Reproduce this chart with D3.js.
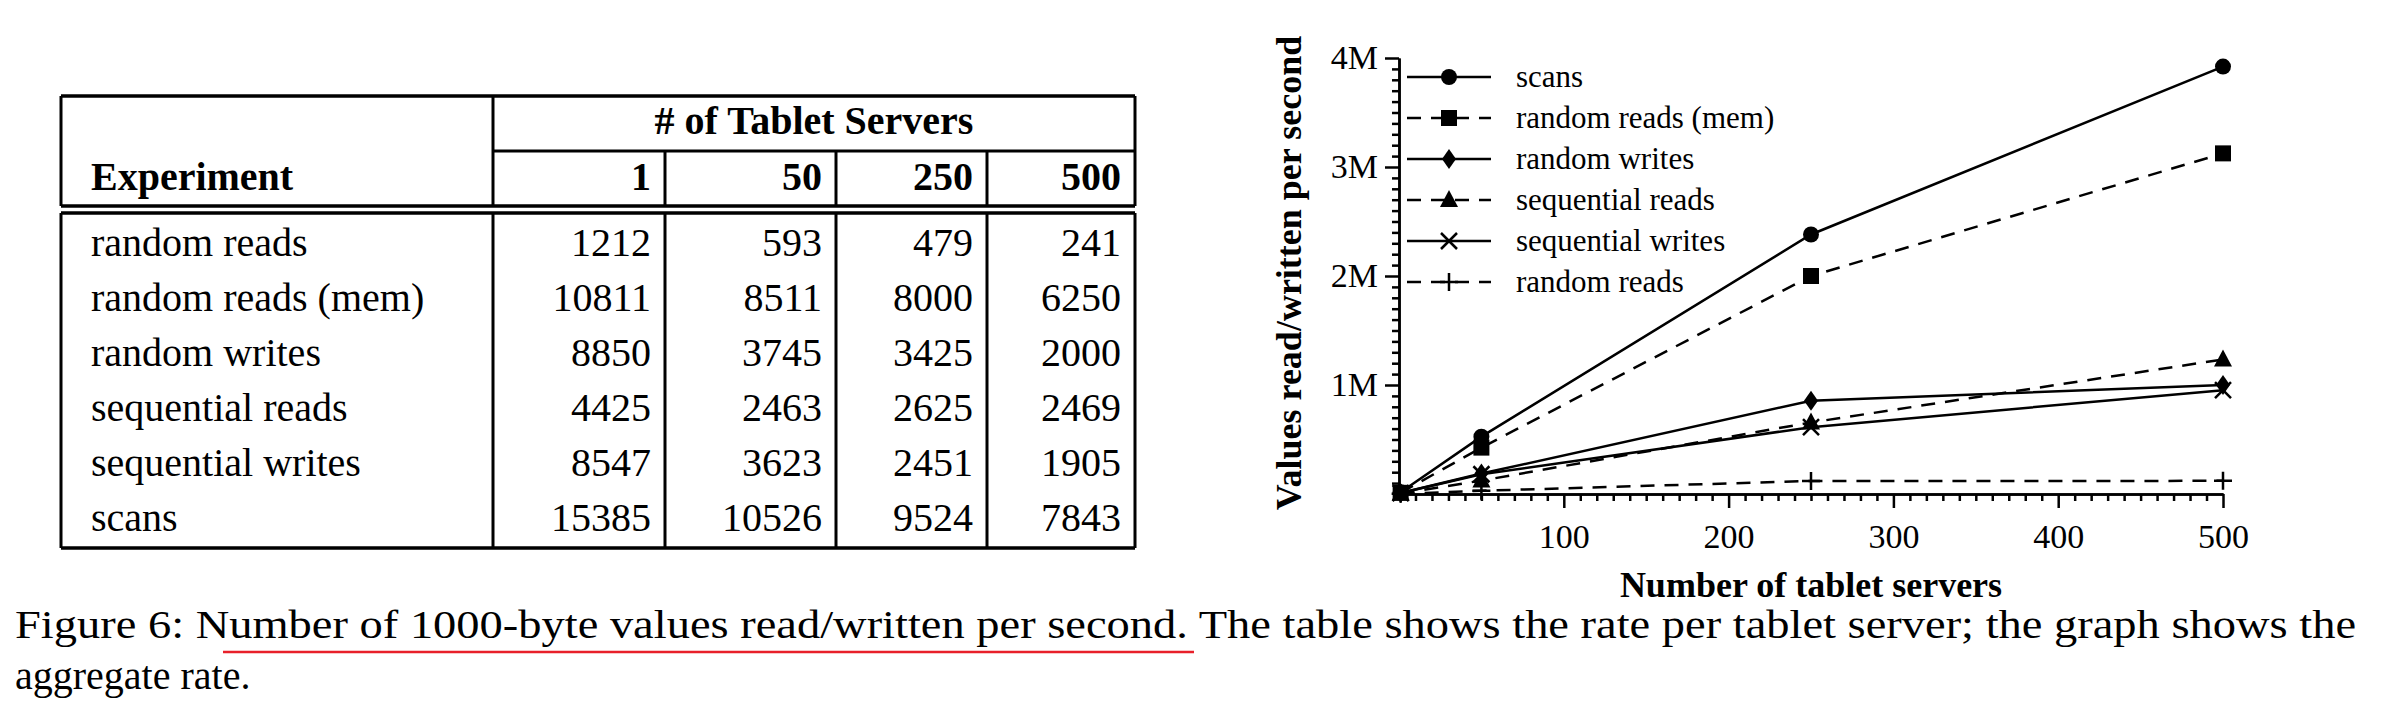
<!DOCTYPE html><html><head><meta charset="utf-8"><script src="https://cdn.jsdelivr.net/npm/d3@7"></script>
<style>body{margin:0;background:#fff}</style></head><body>
<svg id="s" width="2381" height="713"></svg>
<script>
const servers=[1,50,250,500];
const experiments=["random reads","random reads (mem)","random writes","sequential reads","sequential writes","scans"];
const perServer=[[1212,593,479,241],[10811,8511,8000,6250],[8850,3745,3425,2000],[4425,2463,2625,2469],[8547,3623,2451,1905],[15385,10526,9524,7843]];
const seriesNames=["scans","random reads (mem)","random writes","sequential reads","sequential writes","random reads"];
const scans=[15385,526300,2381000,3921500];
const rrMem=[10811,425550,2000000,3125000];
const rWrites=[8850,187250,856250,1000000];
const sReads=[4425,123150,656250,1234500];
const sWrites=[8547,181150,612750,952500];
const rReads=[1212,29650,119750,120500];
const seriesVals=[scans,rrMem,rWrites,sReads,sWrites,rReads];
const markers=["circle","square","diamond","triangle","cross","plus"];
const dashed=[false,true,false,true,false,true];
const xTicks=[100,200,300,400,500];
const yTicks=[1e6,2e6,3e6,4e6];
const yTickLabels=["1M","2M","3M","4M"];

const svg=d3.select("#s");
const tX=[61,493,665,836,987,1135];
const t=svg.append("g");
const L=(x1,y1,x2,y2,w)=>t.append("line").attr("x1",x1).attr("y1",y1).attr("x2",x2).attr("y2",y2).attr("stroke","#000").attr("stroke-width",w);
L(61,96,1135,96,3.5);L(61,206,1135,206,3.5);L(61,213,1135,213,3.5);L(61,548,1135,548,3.5);
L(493,151,1135,151,3);
L(61,96,61,206,3);L(1135,96,1135,206,3);L(493,96,493,206,3);
[665,836,987].forEach(x=>L(x,151,x,206,3));
[61,493,665,836,987,1135].forEach(x=>L(x,213,x,548,3));
t.append("text").attr("x",814).attr("y",134).attr("text-anchor","middle").attr("font-size",40).attr("font-weight","bold").text("# of Tablet Servers");
t.append("text").attr("x",91).attr("y",190).attr("font-size",40).attr("font-weight","bold").text("Experiment");
servers.forEach((s,j)=>t.append("text").attr("x",tX[j+2]-14).attr("y",190).attr("text-anchor","end").attr("font-size",40).attr("font-weight","bold").text(s));
const rowY=d3.scaleLinear().domain([0,5]).range([256,531]);
experiments.forEach((e,i)=>{
 t.append("text").attr("x",91).attr("y",rowY(i)).attr("font-size",40).text(e);
 perServer[i].forEach((v,j)=>t.append("text").attr("x",tX[j+2]-14).attr("y",rowY(i)).attr("text-anchor","end").attr("font-size",40).text(v));
});
svg.append("text").attr("x",15).attr("y",638).attr("font-size",40).attr("textLength",2341).attr("lengthAdjust","spacingAndGlyphs")
 .text("Figure 6: Number of 1000-byte values read/written per second. The table shows the rate per tablet server; the graph shows the");
svg.append("text").attr("x",15).attr("y",689).attr("font-size",40).text("aggregate rate.");
svg.append("line").attr("x1",223).attr("x2",1194).attr("y1",652).attr("y2",652).attr("stroke","#e8202a").attr("stroke-width",2.5);

const x=d3.scaleLinear().domain([0,500]).range([1399,2223]);
const y=d3.scaleLinear().domain([0,4e6]).range([494,58]);
const g=svg.append("g");
const xa=g.append("g").attr("transform","translate(0,494)").call(d3.axisBottom(x).tickValues(xTicks).tickSize(14).tickSizeOuter(0).tickFormat(d3.format("d")));
const xm=g.append("g").attr("transform","translate(0,494)").call(d3.axisBottom(x).tickValues(d3.range(10,500,10).filter(v=>v%100)).tickSize(7).tickFormat("").tickSizeOuter(0));
const ya=g.append("g").attr("transform","translate(1399,0)").call(d3.axisLeft(y).tickValues(yTicks).tickSize(14).tickSizeOuter(0).tickFormat((d,i)=>yTickLabels[i]));
const ym=g.append("g").attr("transform","translate(1399,0)").call(d3.axisLeft(y).tickValues(d3.range(1e5,4e6,1e5).filter(v=>v%1e6)).tickSize(7).tickFormat("").tickSizeOuter(0));
[xa,xm,ya,ym].forEach(a=>{a.selectAll("path,line").attr("stroke","#000").attr("stroke-width",2.5);a.selectAll("text").attr("font-size",34).attr("fill","#000");});
xa.selectAll("text").attr("dy","1.1em");ya.selectAll("text").attr("dx","-4").attr("dy","0.3em");
g.append("text").attr("transform","translate(1301,273) rotate(-90)").attr("text-anchor","middle").attr("font-size",36).attr("font-weight","bold").text("Values read/written per second");
g.append("text").attr("x",1811).attr("y",597).attr("text-anchor","middle").attr("font-size",36).attr("font-weight","bold").text("Number of tablet servers");
function marker(sel,type,cx,cy){
 const s=sel.append("g").attr("transform",`translate(${cx},${cy})`);
 if(type==="circle")s.append("circle").attr("r",8).attr("fill","#000");
 else if(type==="square")s.append("rect").attr("x",-8).attr("y",-8).attr("width",16).attr("height",16).attr("fill","#000");
 else if(type==="diamond")s.append("path").attr("d","M0,-10L7,0L0,10L-7,0Z").attr("fill","#000");
 else if(type==="triangle")s.append("path").attr("d","M0,-10L9,7L-9,7Z").attr("fill","#000");
 else if(type==="cross")s.append("path").attr("d","M-8,-8L8,8M-8,8L8,-8").attr("stroke","#000").attr("stroke-width",2.5).attr("fill","none");
 else s.append("path").attr("d","M-9,0H9M0,-9V9").attr("stroke","#000").attr("stroke-width",2.5).attr("fill","none");
}
const line=d3.line().x((d,i)=>x(servers[i])).y(d=>y(d));
seriesVals.forEach((vals,k)=>{
 g.append("path").datum(vals).attr("d",line).attr("fill","none").attr("stroke","#000").attr("stroke-width",2.5).attr("stroke-dasharray",dashed[k]?"14,10":null);
 vals.forEach((v,i)=>marker(g,markers[k],x(servers[i]),y(v)));
 const ly=77+k*41;
 g.append("line").attr("x1",1407).attr("x2",1491).attr("y1",ly).attr("y2",ly).attr("stroke","#000").attr("stroke-width",2.5).attr("stroke-dasharray",dashed[k]?"14,10":null);
 marker(g,markers[k],1449,ly);
 g.append("text").attr("x",1516).attr("y",ly+10).attr("font-size",31).text(seriesNames[k]);
});
svg.selectAll("g").attr("font-family",null);
svg.selectAll("text").attr("font-family","'Liberation Serif', 'Times New Roman', 'DejaVu Serif', serif").style("font-family","'Liberation Serif', 'Times New Roman', 'DejaVu Serif', serif").attr("fill","#000");
</script></body></html>
